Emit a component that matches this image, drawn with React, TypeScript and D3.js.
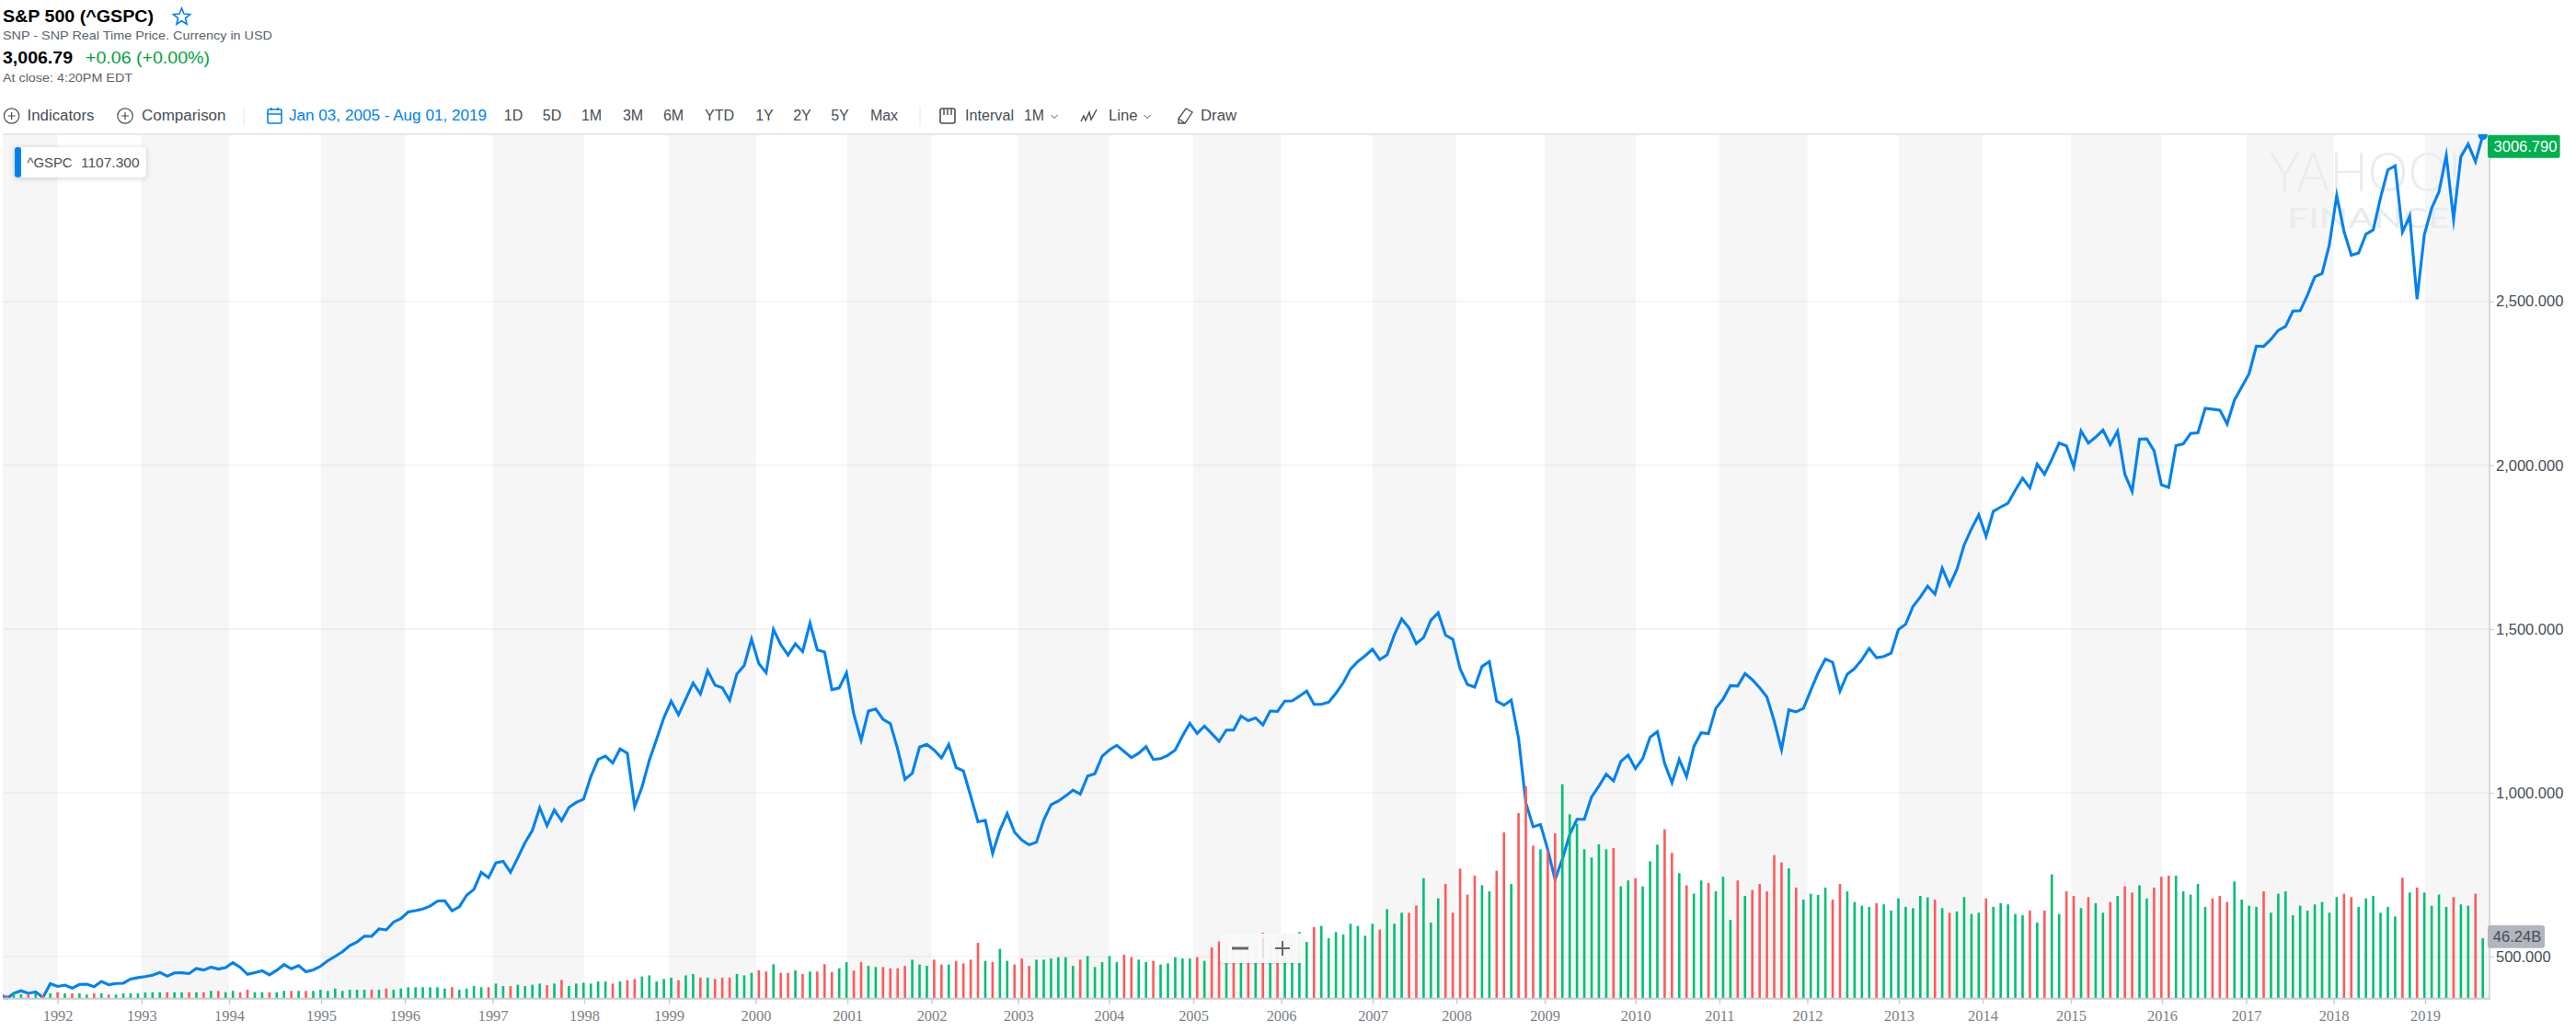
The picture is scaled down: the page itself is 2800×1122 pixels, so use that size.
import { useEffect, useRef } from "react";
import * as d3 from "d3";

// monthly closes, May 1991 first, Sep 2019 last
const closes: number[] = [
  389.83, 371.16, 387.81, 395.43, 387.86, 392.45, 375.22, 417.09,
  408.79, 412.7, 403.69, 414.95, 415.35, 408.14, 424.21, 414.03, 417.8, 418.68, 431.35, 435.71,
  438.78, 443.38, 451.67, 440.19, 450.19, 450.53, 448.13, 463.56, 458.93, 467.83, 461.79, 466.45,
  481.61, 467.14, 445.77, 450.91, 456.5, 444.27, 458.26, 475.49, 462.69, 472.35, 453.69, 459.27,
  470.42, 487.39, 500.71, 514.71, 533.4, 544.75, 562.06, 561.88, 584.41, 581.5, 605.37, 615.93,
  636.02, 640.43, 645.5, 654.17, 669.12, 670.63, 639.95, 651.99, 687.33, 705.27, 757.02, 740.74,
  786.16, 790.82, 757.12, 801.34, 848.28, 885.14, 954.31, 899.47, 947.28, 914.62, 955.4, 970.43,
  980.28, 1049.34, 1101.75, 1111.75, 1090.82, 1133.84, 1120.67, 957.28, 1017.01, 1098.67, 1163.63, 1229.23,
  1279.64, 1238.33, 1286.37, 1335.18, 1301.84, 1372.71, 1328.72, 1320.41, 1282.71, 1362.93, 1388.91, 1469.25,
  1394.46, 1366.42, 1498.58, 1452.43, 1420.6, 1454.6, 1430.83, 1517.68, 1436.51, 1429.4, 1314.95, 1320.28,
  1366.01, 1239.94, 1160.33, 1249.46, 1255.82, 1224.38, 1211.23, 1133.58, 1040.94, 1059.78, 1139.45, 1148.08,
  1130.2, 1106.73, 1147.39, 1076.92, 1067.14, 989.82, 911.62, 916.07, 815.28, 885.76, 936.31, 879.82,
  855.7, 841.15, 849.18, 916.92, 963.59, 974.5, 990.31, 1008.01, 995.97, 1050.71, 1058.2, 1111.92,
  1131.13, 1144.94, 1126.21, 1107.3, 1120.68, 1140.84, 1101.72, 1104.24, 1114.58, 1130.2, 1173.82, 1211.92,
  1181.27, 1203.6, 1180.59, 1156.85, 1191.5, 1191.33, 1234.18, 1220.33, 1228.81, 1207.01, 1249.48, 1248.29,
  1280.08, 1280.66, 1294.87, 1310.61, 1270.09, 1270.2, 1276.66, 1303.82, 1335.85, 1377.94, 1400.63, 1418.3,
  1438.24, 1406.82, 1420.86, 1482.37, 1530.62, 1503.35, 1455.27, 1473.99, 1526.75, 1549.38, 1481.14, 1468.36,
  1378.55, 1330.63, 1322.7, 1385.59, 1400.38, 1280.0, 1267.38, 1282.83, 1166.36, 968.75, 896.24, 903.25,
  825.88, 735.09, 797.87, 872.81, 919.14, 919.32, 987.48, 1020.62, 1057.08, 1036.19, 1095.63, 1115.1,
  1073.87, 1104.49, 1169.43, 1186.69, 1089.41, 1030.71, 1101.6, 1049.33, 1141.2, 1183.26, 1180.55, 1257.64,
  1286.12, 1327.22, 1325.83, 1363.61, 1345.2, 1320.64, 1292.28, 1218.89, 1131.42, 1253.3, 1246.96, 1257.6,
  1312.41, 1365.68, 1408.47, 1397.91, 1310.33, 1362.16, 1379.32, 1406.58, 1440.67, 1412.16, 1416.18, 1426.19,
  1498.11, 1514.68, 1569.19, 1597.57, 1630.74, 1606.28, 1685.73, 1632.97, 1681.55, 1756.54, 1805.81, 1848.36,
  1782.59, 1859.45, 1872.34, 1883.95, 1923.57, 1960.23, 1930.67, 2003.37, 1972.29, 2018.05, 2067.56, 2058.9,
  1994.99, 2104.5, 2067.89, 2085.51, 2107.39, 2063.11, 2103.84, 1972.18, 1920.03, 2079.36, 2080.41, 2043.94,
  1940.24, 1932.23, 2059.74, 2065.3, 2096.95, 2098.86, 2173.6, 2170.95, 2168.27, 2126.15, 2198.81, 2238.83,
  2278.87, 2363.64, 2362.72, 2384.2, 2411.8, 2423.41, 2470.3, 2471.65, 2519.36, 2575.26, 2584.84, 2673.61,
  2823.81, 2713.83, 2640.87, 2648.05, 2705.27, 2718.37, 2816.29, 2901.52, 2913.98, 2711.74, 2760.17, 2506.85,
  2704.1, 2784.49, 2834.4, 2945.83, 2750.52, 2941.76, 2980.38, 2926.46, 3006.79,
];

// monthly volume in billions, same months as closes
const volumes: number[] = [
  2.8,
  2.8, 4.5, 3.3, 3.3, 4.0, 2.8, 4.0, 4.9, 4.0, 4.0, 4.0, 3.1, 4.0, 4.0, 3.1, 3.1, 4.0, 4.0, 4.0, 4.7,
  4.9, 4.9, 4.9, 4.9, 4.9, 4.9, 4.9, 4.9, 5.9, 5.9, 4.9, 5.9, 4.9, 6.8, 4.9, 4.9, 4.9, 4.9, 5.9, 5.9,
  5.9, 5.9, 5.9, 6.8, 5.9, 7.7, 5.9, 6.8, 6.8, 6.8, 6.8, 6.8, 7.7, 6.8, 7.7, 8.7, 8.7, 8.7, 8.7, 8.7,
  7.7, 8.7, 6.8, 7.7, 9.6, 8.7, 8.7, 11.5, 9.6, 9.6, 10.6, 9.6, 10.6, 11.5, 10.3, 11.5, 14.3, 9.6, 11.5, 12.2,
  11.5, 13.1, 13.1, 11.5, 13.1, 14.1, 15.0, 16.9, 17.8, 13.1, 15.0, 16.0, 14.1, 17.8, 18.8, 16.0, 16.0, 15.0, 16.0, 16.0,
  18.8, 17.8, 19.7, 21.6, 20.7, 26.3, 19.7, 19.7, 21.6, 18.8, 20.7, 20.7, 26.3,
  20.4, 23.2, 27.9, 21.4, 27.9, 25.1, 24.2, 24.2, 23.2, 23.2, 25.1, 29.8, 26.1, 25.1, 29.8, 26.1, 26.1, 28.9, 27.0, 29.8,
  42.7, 28.9, 27.9, 38.0, 28.9, 26.1, 30.7, 25.1, 29.8, 29.8, 30.7, 31.7, 31.7, 25.1, 29.8, 32.6, 24.2, 27.9, 32.6, 27.9,
  33.6, 31.7, 29.8, 27.9, 28.9, 26.1, 27.0, 31.7, 30.7, 30.7, 31.7, 28.9, 39.2, 43.7, 42.7, 41.5, 42.7, 41.5, 43.9, 50.5,
  43.9, 46.2, 49.8, 43.9, 50.9, 43.4, 54.7, 55.6, 46.2, 50.9, 49.1, 57.3, 55.6, 48.1, 57.3, 52.8, 68.5, 57.3, 65.7, 65.7,
  71.3, 92.2, 58.2, 76.7, 87.8, 65.7, 99.5, 79.6, 94.1, 86.8, 82.1, 97.9, 127.2, 87.8, 142.0, 162.4, 117.1, 114.3, 113.6, 126.5,
  164.1, 141.1, 133.8, 114.3, 108.0, 118.1, 114.3, 115.2, 85.9, 90.4, 92.2, 85.9, 105.1,
  117.8, 129.6, 111.5, 96.0, 86.8, 80.3, 90.4, 88.5, 82.1, 93.2, 60.3, 90.4, 78.6, 83.1, 87.8, 82.1, 109.8, 104.2, 99.7, 85.0,
  75.8, 80.3, 79.3, 85.0, 75.8, 87.8, 82.1, 73.9, 71.1, 70.2, 73.0, 72.1, 67.4, 76.7, 70.2, 69.2, 78.6, 77.5, 75.8, 69.2,
  65.7, 66.7, 77.7, 64.8, 65.7, 76.7, 70.2, 73.0, 72.1, 64.8, 63.8, 67.4, 58.2, 67.4, 95.1, 64.8, 82.1, 78.6, 69.2, 77.7,
  73.0, 65.7, 73.9, 78.6, 85.9, 81.2, 86.8, 76.7, 85.0, 93.2, 94.1, 94.1, 82.1, 79.6, 87.8, 70.2, 76.7, 78.6, 73.9, 89.7,
  75.8, 71.1, 70.2, 82.1, 65.7, 80.3, 82.1, 63.8, 71.1, 67.4, 72.1, 73.9, 65.7, 77.7, 80.3, 77.7, 70.2, 76.7, 78.6, 65.7,
  70.2, 62.9, 92.5, 81.2, 85.0, 81.2, 71.1, 79.6, 70.2, 77.7, 72.1, 71.1, 80.3, 46.2,
];

const years: number[] = d3.range(1992, 2020);
// where each year label sits, in months from the first point
const yearTickPos: number[] = [
  8.0, 19.49, 31.48, 44.07, 55.53, 67.57, 80.09, 91.68, 103.58, 116.12, 127.64, 139.51, 151.93, 163.47,
  175.5, 188.03, 199.49, 211.58, 224.01, 235.5, 247.53, 260.06, 271.52, 283.61, 296.08, 307.61, 319.58, 332.1,
];
const priceTicks: number[] = [500, 1000, 1500, 2000, 2500];
const rangeButtons: [string, number][] = [
  ["1D", 558], ["5D", 600], ["1M", 643], ["3M", 688], ["6M", 732], ["YTD", 782],
  ["1Y", 831], ["2Y", 872], ["5Y", 913], ["Max", 961],
];

const BLUE = "#0081f2";
const INK = "#464e56";
const SANS = "'Liberation Sans', Arial, sans-serif";

const App: React.FC = () => {
  const svgRef = useRef<SVGSVGElement | null>(null);

  useEffect(() => {
    if (!svgRef.current) return;
    const svg = d3.select(svgRef.current);
    svg.selectAll("*").remove();

    const left = 3;
    const right = 2706;
    const top = 146;
    const base = 1085.7;

    const x = d3.scaleLinear().domain([0, closes.length - 1]).range([-0.94, 2698.7]);
    const y = d3.scaleLinear().domain([500, 2500]).range([1040, 327.7]);
    const yVol = d3.scaleLinear().domain([0, 168]).range([base, base - 168 / 0.704]);

    const txt = (
      px: number,
      py: number,
      s: string,
      o: { size?: number; weight?: any; fill?: string; len?: number; anchor?: string; family?: string } = {}
    ) => {
      const t = svg
        .append("text")
        .attr("x", px)
        .attr("y", py)
        .attr("font-family", o.family ?? SANS)
        .attr("font-size", o.size ?? 16)
        .attr("font-weight", o.weight ?? 400)
        .attr("fill", o.fill ?? INK)
        .attr("text-anchor", o.anchor ?? "start")
        .text(s);
      if (o.len) t.attr("textLength", o.len).attr("lengthAdjust", "spacingAndGlyphs");
      return t;
    };

    // header
    txt(3, 24, "S&P 500 (^GSPC)", { size: 18, weight: 700, fill: "#000", len: 164 });
    txt(3, 43, "SNP - SNP Real Time Price. Currency in USD", { size: 13, fill: "#5b636a", len: 293 });
    txt(3, 69, "3,006.79", { size: 18, weight: 700, fill: "#000", len: 76 });
    txt(93, 69, "+0.06 (+0.00%)", { size: 18, fill: "#00a33e", len: 135 });
    txt(3, 89, "At close: 4:20PM EDT", { size: 13, fill: "#5b636a", len: 141 });
    const star = d3.range(10).map((i) => {
      const r = i % 2 ? 4.2 : 9.5;
      const a = (i * Math.PI) / 5 - Math.PI / 2;
      return [197.5 + r * Math.cos(a), 18.5 + r * Math.sin(a)] as [number, number];
    });
    svg.append("path").attr("d", d3.line()(star) + "Z").attr("fill", "none").attr("stroke", BLUE).attr("stroke-width", 1.6);

    // toolbar
    const plusIcon = (cx: number) => {
      svg.append("circle").attr("cx", cx).attr("cy", 126).attr("r", 8.2).attr("fill", "none").attr("stroke", INK).attr("stroke-width", 1.2);
      svg.append("path").attr("d", `M${cx - 4},126H${cx + 4}M${cx},122V130`).attr("stroke", INK).attr("stroke-width", 1.2);
    };
    plusIcon(12.6);
    txt(29.5, 131, "Indicators", { len: 73 });
    plusIcon(136);
    txt(154, 131, "Comparison", { len: 91.5 });
    [265, 1000].forEach((sx) => svg.append("line").attr("x1", sx).attr("x2", sx).attr("y1", 116).attr("y2", 137).attr("stroke", "#e3e6ea"));
    svg.append("rect").attr("x", 291).attr("y", 119).attr("width", 15).attr("height", 15).attr("rx", 1).attr("fill", "none").attr("stroke", BLUE).attr("stroke-width", 1.6);
    svg.append("path").attr("d", "M291,124H306M295,117V120M302,117V120").attr("stroke", BLUE).attr("stroke-width", 1.6);
    txt(314, 131, "Jan 03, 2005 - Aug 01, 2019", { fill: BLUE, len: 215 });
    rangeButtons.forEach(([label, cx]) => txt(cx, 131, label, { anchor: "middle" }));
    svg.append("rect").attr("x", 1022).attr("y", 118).attr("width", 16).attr("height", 16).attr("rx", 2).attr("fill", "none").attr("stroke", INK).attr("stroke-width", 1.6);
    svg.append("path").attr("d", "M1026,118V125M1030,118V125M1034,118V125").attr("stroke", INK).attr("stroke-width", 1.4);
    txt(1049, 131, "Interval", { len: 53 });
    txt(1113, 131, "1M", { len: 22 });
    const chevron = (cx: number) =>
      svg.append("path").attr("d", `M${cx - 3.5},125L${cx},128.5L${cx + 3.5},125`).attr("fill", "none").attr("stroke", INK).attr("stroke-width", 1);
    chevron(1146);
    svg.append("path").attr("d", "M1175,132L1178,126L1180,131L1184,122L1186,130L1192,119").attr("fill", "none").attr("stroke", INK).attr("stroke-width", 1.4);
    txt(1205, 131, "Line", { len: 31.5 });
    chevron(1247);
    svg.append("path").attr("d", "M1281,129L1289,118L1296,122L1288,134H1281ZM1281,129L1288,134").attr("fill", "none").attr("stroke", INK).attr("stroke-width", 1.3);
    txt(1305, 131, "Draw", { len: 39 });

    // year bands, odd years are grey
    const edges = [left, ...yearTickPos.map((p) => x(p)), right];
    [1991, ...years].forEach((yr, i) => {
      if (yr % 2 === 0) return;
      svg.append("rect").attr("x", edges[i]).attr("y", top).attr("width", edges[i + 1] - edges[i]).attr("height", base - top).attr("fill", "#f6f6f6");
    });

    // watermark
    txt(2467, 208, "YAHOO!", { size: 60, weight: 300, fill: "#e9ebed", len: 208, family: "Lato, sans-serif" });
    txt(2486, 248, "FINANCE", { size: 31, weight: 400, fill: "#e9ebed", len: 177, family: "Lato, sans-serif" });

    svg.append("rect").attr("x", left).attr("y", top - 1).attr("width", right - left).attr("height", 1.6).attr("fill", "#dde3ea");

    // gridlines
    svg
      .append("g")
      .selectAll("line")
      .data(priceTicks)
      .join("line")
      .attr("x1", left)
      .attr("x2", right)
      .attr("y1", (d) => y(d))
      .attr("y2", (d) => y(d))
      .attr("stroke", "#000")
      .attr("stroke-opacity", 0.05)
      .attr("stroke-width", 1.6);

    const defs = svg.append("defs");
    defs.append("clipPath").attr("id", "plot").append("rect").attr("x", left).attr("y", top).attr("width", right - left).attr("height", base - top + 1);

    // price line
    const line = d3
      .line<number>()
      .x((_, i) => x(i))
      .y((d) => y(d));
    const plot = svg.append("g").attr("clip-path", "url(#plot)");
    plot.append("path").datum(closes).attr("d", line).attr("fill", "none").attr("stroke", BLUE).attr("stroke-width", 3.1).attr("stroke-linejoin", "miter").attr("stroke-miterlimit", 10);
    plot.append("circle").attr("cx", x(closes.length - 1)).attr("cy", y(3006.79)).attr("r", 5).attr("fill", BLUE);

    // volume bars, green on an up month
    plot
      .append("g")
      .selectAll("rect")
      .data(volumes)
      .join("rect")
      .attr("x", (_, i) => x(i) - 1.3)
      .attr("y", (d) => yVol(d))
      .attr("width", 2.6)
      .attr("height", (d) => base - yVol(d))
      .attr("fill", (_, i) => (i > 0 && closes[i] >= closes[i - 1] ? "#00c073" : "#ff5a5a"));

    // x axis
    const axisX = svg
      .append("g")
      .attr("transform", `translate(0,${base})`)
      .call(
        d3
          .axisBottom(x)
          .tickValues(yearTickPos)
          .tickSize(6)
          .tickPadding(7)
          .tickFormat((_, i) => String(years[i]))
      );
    axisX.select(".domain").remove();
    axisX.selectAll("line").attr("stroke", "#c8ccd0").attr("stroke-width", 1.4);
    axisX.selectAll("text").attr("font-family", "'Liberation Serif', serif").attr("font-size", 16.4).attr("fill", "#7b8085");
    svg.append("line").attr("x1", left).attr("x2", right + 1).attr("y1", base).attr("y2", base).attr("stroke", "#c8ccd0").attr("stroke-width", 2);

    // y axis
    const axisY = svg
      .append("g")
      .attr("transform", `translate(${right},0)`)
      .call(d3.axisRight(y).tickValues(priceTicks).tickSize(5).tickPadding(2).tickFormat(d3.format(",.3f") as any));
    axisY.select(".domain").remove();
    axisY.selectAll("line").attr("stroke", "#c8ccd0");
    axisY.selectAll("text").attr("font-family", SANS).attr("font-size", 16.5).attr("fill", INK);
    svg.append("line").attr("x1", right).attr("x2", right).attr("y1", top).attr("y2", base).attr("stroke", "#c8ccd0").attr("stroke-width", 1.4);

    // last price and last volume tags
    svg.append("rect").attr("x", 2704).attr("y", 146.7).attr("width", 78.6).attr("height", 25).attr("rx", 2).attr("fill", "#00b050");
    txt(2745, 165, "3006.790", { size: 16.5, fill: "#fff", anchor: "middle" });
    svg.append("rect").attr("x", 2704).attr("y", 1006).attr("width", 62).attr("height", 24.7).attr("rx", 3).attr("fill", "#b0b5be");
    txt(2736, 1024, "46.24B", { size: 16.5, anchor: "middle" });

    // series tag
    svg.append("rect").attr("x", 16).attr("y", 160).attr("width", 143).attr("height", 32.7).attr("rx", 3).attr("fill", "#fff").style("filter", "drop-shadow(0 1px 3px rgba(0,0,0,.18))");
    svg.append("rect").attr("x", 16).attr("y", 160).attr("width", 7).attr("height", 32.7).attr("rx", 2.5).attr("fill", BLUE);
    txt(29.5, 182, "^GSPC", { size: 15, len: 49 });
    txt(88, 182, "1107.300", { size: 15, len: 63.5 });

    // zoom buttons
    svg.append("rect").attr("x", 1326).attr("y", 1015).attr("width", 90.6).attr("height", 32).attr("rx", 4).attr("fill", "#fafafa").attr("fill-opacity", 0.96).style("filter", "drop-shadow(0 1px 1px rgba(0,0,0,.12))");
    svg.append("path").attr("d", "M1339,1031H1357").attr("stroke", "#666").attr("stroke-width", 3);
    svg.append("path").attr("d", "M1386,1031H1402M1394,1023V1039").attr("stroke", "#666").attr("stroke-width", 2);
    svg.append("line").attr("x1", 1373).attr("x2", 1373).attr("y1", 1020).attr("y2", 1042).attr("stroke", "#ccc");
  }, []);

  return (
    <svg
      ref={svgRef}
      width={2800}
      height={1122}
      style={{ position: "absolute", left: 0, top: 0, background: "#fff" }}
    ></svg>
  );
};

export default App;
